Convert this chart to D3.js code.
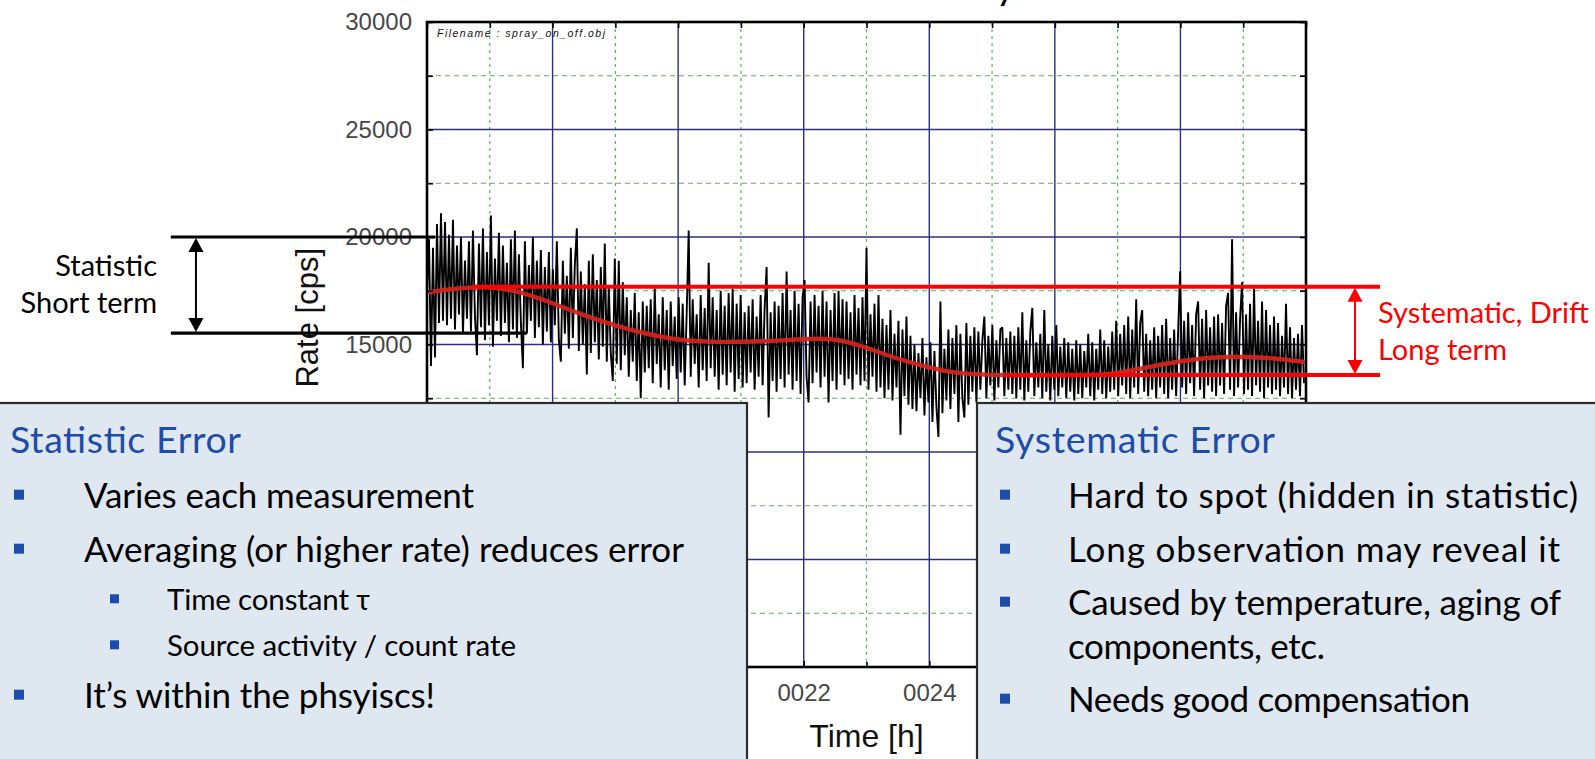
<!DOCTYPE html>
<html>
<head>
<meta charset="utf-8">
<script src="https://cdn.jsdelivr.net/npm/d3@7"></script>
<style>
  html, body { margin: 0; padding: 0; background: #ffffff; }
  svg { display: block; }
</style>
</head>
<body>
<svg id="slide" width="1595" height="759"></svg>
<script>
// ---- axis ticks ----
const hourTicks = [16, 18, 20, 22, 24, 26, 28, 30];
const hourTickLabels = ["0016", "0018", "0020", "0022", "0024", "0026", "0028", "0030"];
const hourMinorTicks = [17, 19, 21, 23, 25, 27, 29];
const rateTicks = [0, 5000, 10000, 15000, 20000, 25000, 30000];
const rateTickLabels = ["0", "5000", "10000", "15000", "20000", "25000", "30000"];
const rateMinorTicks = [2500, 7500, 12500, 17500, 22500, 27500];

// ---- measured count rate [cps], sampled evenly from 0016 h ----
const sampleStartHour = 16;
const sampleStepHours = 14 / 440;
const countRate = [
  17500, 19900, 14000, 19500, 14400, 20600, 16000, 21100, 16100,
  20700, 15900, 20100, 16200, 20800, 15700, 19600, 16400, 20000, 15500, 18900, 16200, 19800, 15600, 20300, 16300, 14500,
  19700, 15800, 20400, 15200, 19300, 15900, 21000, 14900, 19000, 16100, 20200, 15400, 19600, 16000, 18800, 15100, 19900,
  15700, 20300, 15300, 19200, 16000, 13900, 19800, 15500, 18700, 16100, 20000, 15300, 18900, 15800, 19400, 15000, 18600,
  15600, 19300, 15100, 18500, 15900, 19800, 15200, 14200, 18900, 15500, 18200, 14800, 19500, 15300, 18700, 20400, 14700,
  18400, 15000, 17800, 13600, 18900, 14600, 19200, 15100, 18000, 14300, 18600, 14900, 19700, 14200, 17700, 14600, 13300,
  19000, 14100, 18900, 13800, 17900, 14500, 17200, 13500, 16600, 14200, 17400, 13300, 16500, 12500, 17000, 13700,
  16800, 13900, 17100, 13200, 17600, 14100, 16400, 13000, 17200, 13800, 16600, 12900, 17000, 14000, 16300, 13400, 17200,
  13700, 16900, 13100, 16500, 20300, 13500, 17100, 14100, 16400, 13000, 17300, 13800, 16700, 13300, 18800, 13900,
  17200, 13500, 16600, 12900, 17500, 13600, 16800, 13100, 17400, 13700, 17600, 12800, 16900, 13400, 17300, 13000, 16500,
  13200, 16800, 13700, 17100, 12900, 16300, 13500, 17300, 13100, 16700, 18600, 11600, 16500, 13300, 17000, 12800,
  16800, 13400, 17400, 13000, 18400, 13600, 16600, 12900, 17500, 13300, 16900, 12700, 17200, 18000, 13500, 12300, 17000,
  13200, 17300, 13700, 16800, 13000, 17500, 13500, 17000, 12300, 16600, 13300, 17400, 12900, 17500, 13600, 17100, 13100,
  17000, 13400, 16500, 12900, 17300, 13600, 16700, 13100, 17200, 13300, 19500, 12900, 16400, 13500, 16900, 12800,
  17300, 13000, 16200, 12500, 15900, 12900, 16600, 12400, 15500, 13000, 16100, 10800, 15700, 12600, 16300, 12200, 15400,
  12000, 15000, 11900, 14600, 12500, 15300, 11700, 14400, 12300, 15100, 11400, 14700, 12100, 10700, 17000, 11800, 14800,
  12400, 15700, 12000, 15300, 12700, 15900, 11400, 15500, 12500, 11600, 16000, 12200, 15400, 12800, 15800, 12300,
  15600, 12900, 15200, 16300, 12500, 15400, 13100, 15900, 12400, 15200, 13000, 15700, 15800, 12600, 15300, 12900, 15600,
  12700, 15400, 12500, 15800, 12900, 16500, 12400, 15200, 12800, 15600, 16700, 12600, 15100, 13000, 15500, 12500, 16600,
  12800, 15000, 12400, 15400, 12900, 15900, 12600, 14900, 13000, 15300, 12500, 15100, 12800, 14800, 12400, 15200,
  12700, 15000, 12500, 14700, 13000, 15500, 12600, 15100, 12400, 14800, 12900, 15700, 12700, 15200, 12500, 14900, 12800,
  15600, 12900, 16100, 12600, 15500, 13100, 15900, 12700, 16300, 12500, 15700, 13000, 17100, 12700, 16000, 16600, 12800,
  15500, 12600, 15200, 12900, 15800, 12500, 15400, 13000, 15900, 12700, 16200, 12500, 15300, 12900, 15700, 12600,
  15600, 18400, 13000, 16100, 12700, 16500, 13200, 15900, 12600, 16400, 17000, 12900, 16200, 12500, 16600, 13100, 15800,
  12800, 16300, 12600, 16400, 13100, 16000, 12700, 16800, 17400, 12900, 19900, 12600, 16500, 13000, 16200, 17900, 12700,
  16400, 12900, 16900, 12600, 17600, 13100, 16100, 12800, 17000, 12500, 16600, 13000, 15900, 12700, 16300, 12900,
  16000, 12600, 15400, 13000, 16900, 12700, 15800, 12500, 15300, 12900, 15500, 12600, 15900, 13200
];

// ---- smoothed rate (long-term drift) ----
const driftHours = [16.05, 16.5, 17.0, 17.5, 18.0, 18.5, 19.0, 19.5, 20.0, 20.5, 21.0, 21.5, 22.0, 22.4, 22.8,
                    23.3, 23.8, 24.3, 24.9, 25.5, 26.0, 26.5, 26.9, 27.4, 27.9, 28.5, 29.0, 29.5, 29.95];
const driftRate  = [17440, 17620, 17700, 17450, 16930, 16350, 15880, 15480, 15200, 15120, 15120, 15160, 15250, 15300, 15070,
                    14520, 14070, 13700, 13580, 13570, 13560, 13570, 13600, 13900, 14180, 14420, 14430, 14370, 14190];

// ---- annotation bands [cps] and their horizontal reach [h] ----
const statisticBand = [20000, 15530];
const statisticReach = [11.92, 16.13, 17.59];   // start, end of upper line, end of lower line
const statisticArrowHour = 12.32;
const driftBand = [17690, 13580];
const driftReach = [16.73, 25.2, 31.18];        // start of upper line, start of lower line, common end
const driftArrowHour = 30.78;

const svg = d3.select("#slide");
const W = 1595, H = 759;
svg.append("rect").attr("width", W).attr("height", H).attr("fill", "#ffffff");

const plot = { left: 427, right: 1306, top: 22, bottom: 667 };
const x = d3.scaleLinear().domain([16, 30]).range([plot.left, plot.right]);
const y = d3.scaleLinear().domain([0, 30000]).range([plot.bottom, plot.top]);

// callout boxes laid over the lower part of the chart
const boxes = [
  { x0: -3, x1: 747, y0: 403 },
  { x0: 977, x1: 1598, y0: 403 }
];
const underBox = (px, py) => boxes.some(b => px > b.x0 && px < b.x1 && py > b.y0);

const chartFont = "'Liberation Sans', Arial, sans-serif";
const slideFont = "Lato, 'Open Sans', sans-serif";

// slide title, sitting above the visible area
svg.append("text")
  .attr("x", 1016).attr("y", -1)
  .attr("text-anchor", "end")
  .attr("font-family", slideFont).attr("font-size", 40)
  .attr("fill", "#000")
  .text("Count Rate Stability");

// ---- grid ----
const grid = svg.append("g");
grid.selectAll("line.gminy").data(rateMinorTicks).join("line")
  .attr("x1", plot.left).attr("x2", plot.right)
  .attr("y1", d => y(d)).attr("y2", d => y(d))
  .attr("stroke", "#62ad62").attr("stroke-width", 1.2).attr("stroke-dasharray", "5,4");
grid.selectAll("line.gminx").data(hourMinorTicks).join("line")
  .attr("x1", d => x(d)).attr("x2", d => x(d))
  .attr("y1", plot.top).attr("y2", plot.bottom)
  .attr("stroke", "#62ad62").attr("stroke-width", 1.2).attr("stroke-dasharray", "3,4");
grid.selectAll("line.gmajy").data(rateTicks.filter(d => d > 0 && d < 30000)).join("line")
  .attr("x1", plot.left).attr("x2", plot.right)
  .attr("y1", d => y(d)).attr("y2", d => y(d))
  .attr("stroke", "#2e2e7e").attr("stroke-width", 1.4);
grid.selectAll("line.gmajx").data(hourTicks.filter(d => d > 16 && d < 30)).join("line")
  .attr("x1", d => x(d)).attr("x2", d => x(d))
  .attr("y1", plot.top).attr("y2", plot.bottom)
  .attr("stroke", "#2e2e7e").attr("stroke-width", 1.4);

// ---- measured trace ----
const trace = d3.line()
  .x((d, i) => x(sampleStartHour + i * sampleStepHours))
  .y(d => y(d));
svg.append("path")
  .datum(countRate)
  .attr("d", trace)
  .attr("fill", "none")
  .attr("stroke", "#000")
  .attr("stroke-width", 1.9)
  .attr("stroke-linejoin", "bevel");

// ---- smoothed drift curve ----
const smooth = d3.line()
  .curve(d3.curveBasis)
  .x((d, i) => x(driftHours[i]))
  .y(d => y(d));
svg.append("path")
  .datum(driftRate)
  .attr("d", smooth)
  .attr("fill", "none")
  .attr("stroke", "#d8231c")
  .attr("stroke-width", 4.4)
  .attr("stroke-linecap", "round")
  .attr("opacity", 0.92);

// ---- axes with inward ticks ----
function styleAxis(g) {
  g.select(".domain").remove();
  g.selectAll("line").attr("stroke", "#000").attr("stroke-width", 1.6);
  g.selectAll("text")
    .attr("font-family", chartFont)
    .attr("font-size", 24)
    .attr("fill", "#474747");
}
const allHours = hourTicks.concat(hourMinorTicks);
const allRates = rateTicks.concat(rateMinorTicks);

svg.append("g").attr("transform", `translate(${plot.left},0)`)
  .call(d3.axisLeft(y).tickValues(rateTicks).tickFormat((d, i) => rateTickLabels[i]).tickSize(-6).tickPadding(15))
  .call(styleAxis)
  .call(g => g.selectAll(".tick text").filter(d => underBox(plot.left - 40, y(d))).remove());
svg.append("g").attr("transform", `translate(${plot.left},0)`)
  .call(d3.axisLeft(y).tickValues(rateMinorTicks).tickFormat("").tickSize(-6))
  .call(styleAxis);
svg.append("g").attr("transform", `translate(${plot.right},0)`)
  .call(d3.axisRight(y).tickValues(allRates).tickFormat("").tickSize(-6))
  .call(styleAxis);
svg.append("g").attr("transform", `translate(0,${plot.bottom})`)
  .call(d3.axisBottom(x).tickValues(hourTicks).tickFormat((d, i) => hourTickLabels[i]).tickSize(-6).tickPadding(17))
  .call(styleAxis)
  .call(g => g.selectAll(".tick text").filter(d => underBox(x(d), plot.bottom + 25)).remove());
svg.append("g").attr("transform", `translate(0,${plot.bottom})`)
  .call(d3.axisBottom(x).tickValues(hourMinorTicks).tickFormat("").tickSize(-5))
  .call(styleAxis);
svg.append("g").attr("transform", `translate(0,${plot.top})`)
  .call(d3.axisTop(x).tickValues(allHours).tickFormat("").tickSize(-6))
  .call(styleAxis);

// frame
svg.append("rect")
  .attr("x", plot.left).attr("y", plot.top)
  .attr("width", plot.right - plot.left).attr("height", plot.bottom - plot.top)
  .attr("fill", "none").attr("stroke", "#000").attr("stroke-width", 2.6);

// file name stamp
svg.append("text")
  .attr("x", plot.left + 10).attr("y", plot.top + 15)
  .attr("font-family", chartFont).attr("font-size", 10.5)
  .attr("font-style", "italic").attr("fill", "#111")
  .attr("textLength", 168).attr("lengthAdjust", "spacing")
  .text("Filename : spray_on_off.obj");

// axis titles
svg.append("text")
  .attr("transform", `translate(318,248) rotate(-90)`)
  .attr("text-anchor", "end")
  .attr("font-family", chartFont).attr("font-size", 31)
  .attr("fill", "#111")
  .text("Rate [cps]");
svg.append("text")
  .attr("x", (plot.left + plot.right) / 2).attr("y", 747)
  .attr("text-anchor", "middle")
  .attr("font-family", chartFont).attr("font-size", 32)
  .attr("fill", "#111")
  .text("Time [h]");

// ---- annotations ----
function doubleArrow(g, cx, y1, y2, color) {
  const hw = 7.5, hh = 15;
  g.append("line").attr("x1", cx).attr("x2", cx).attr("y1", y1 + hh - 2).attr("y2", y2 - hh + 2)
    .attr("stroke", color).attr("stroke-width", 2);
  g.append("path").attr("d", `M${cx},${y1 + 1}L${cx - hw},${y1 + hh}L${cx + hw},${y1 + hh}Z`).attr("fill", color);
  g.append("path").attr("d", `M${cx},${y2 - 1}L${cx - hw},${y2 - hh}L${cx + hw},${y2 - hh}Z`).attr("fill", color);
}

const ann = svg.append("g");
// statistic (short-term) band
ann.append("line")
  .attr("x1", x(statisticReach[0])).attr("x2", x(statisticReach[1]))
  .attr("y1", y(statisticBand[0])).attr("y2", y(statisticBand[0]))
  .attr("stroke", "#000").attr("stroke-width", 3.2);
ann.append("line")
  .attr("x1", x(statisticReach[0])).attr("x2", x(statisticReach[2]))
  .attr("y1", y(statisticBand[1])).attr("y2", y(statisticBand[1]))
  .attr("stroke", "#000").attr("stroke-width", 3.2);
doubleArrow(ann, x(statisticArrowHour), y(statisticBand[0]), y(statisticBand[1]), "#000");
ann.append("text")
  .attr("x", 157).attr("y", 276).attr("text-anchor", "end")
  .attr("font-family", slideFont).attr("font-size", 29).attr("fill", "#000")
  .text("Statistic");
ann.append("text")
  .attr("x", 157).attr("y", 313).attr("text-anchor", "end")
  .attr("font-family", slideFont).attr("font-size", 29).attr("fill", "#000")
  .text("Short term");

// systematic (long-term) band
ann.append("line")
  .attr("x1", x(driftReach[0])).attr("x2", x(driftReach[2]))
  .attr("y1", y(driftBand[0])).attr("y2", y(driftBand[0]))
  .attr("stroke", "#ff0000").attr("stroke-width", 4);
ann.append("line")
  .attr("x1", x(driftReach[1])).attr("x2", x(driftReach[2]))
  .attr("y1", y(driftBand[1])).attr("y2", y(driftBand[1]))
  .attr("stroke", "#ff0000").attr("stroke-width", 4);
doubleArrow(ann, x(driftArrowHour), y(driftBand[0]), y(driftBand[1]), "#ff0000");
ann.append("text")
  .attr("x", 1378).attr("y", 323)
  .attr("font-family", slideFont).attr("font-size", 29).attr("fill", "#ff0000")
  .text("Systematic, Drift");
ann.append("text")
  .attr("x", 1378).attr("y", 360)
  .attr("font-family", slideFont).attr("font-size", 29).attr("fill", "#ff0000")
  .text("Long term");

// ---- text boxes ----
const boxFill = "#dfe7f1", boxStroke = "#2b2b2b", accent = "#1d4cab";
function textBox(b) {
  svg.append("rect")
    .attr("x", b.x0).attr("y", b.y0).attr("width", b.x1 - b.x0).attr("height", H - b.y0 + 4)
    .attr("fill", boxFill).attr("stroke", boxStroke).attr("stroke-width", 2.2);
}
function heading(tx, ty, s, len) {
  svg.append("text").attr("x", tx).attr("y", ty)
    .attr("font-family", slideFont).attr("font-size", 37.5).attr("fill", accent)
    .attr("textLength", len).attr("lengthAdjust", "spacing").text(s);
}
function item(bx, tx, ty, s, size, sq, len) {
  if (bx !== null) {
    svg.append("rect").attr("x", bx).attr("y", ty - size * 0.38 - sq / 2)
      .attr("width", sq).attr("height", sq).attr("fill", accent);
  }
  svg.append("text").attr("x", tx).attr("y", ty)
    .attr("font-family", slideFont).attr("font-size", size).attr("fill", "#000")
    .attr("textLength", len).attr("lengthAdjust", "spacing").text(s);
}

textBox(boxes[0]);
heading(10, 453, "Statistic Error", 231);
item(14, 84, 508, "Varies each measurement", 35, 10, 390);
item(14, 84, 562, "Averaging (or higher rate) reduces error", 35, 10, 600);
item(110, 167, 610, "Time constant \u03C4", 29.5, 9, 203);
item(110, 167, 656, "Source activity / count rate", 29.5, 9, 349);
item(14, 84, 708, "It\u2019s within the phsyiscs!", 35, 10, 351);

textBox(boxes[1]);
heading(995, 453, "Systematic Error", 280);
item(1000, 1068, 508, "Hard to spot (hidden in statistic)", 35, 10, 510);
item(1000, 1068, 562, "Long observation may reveal it", 35, 10, 492);
item(1000, 1068, 615, "Caused by temperature, aging of", 35, 10, 493);
item(null, 1068, 659, "components, etc.", 35, 10, 257);
item(1000, 1068, 712, "Needs good compensation", 35, 10, 402);
</script>
</body>
</html>
